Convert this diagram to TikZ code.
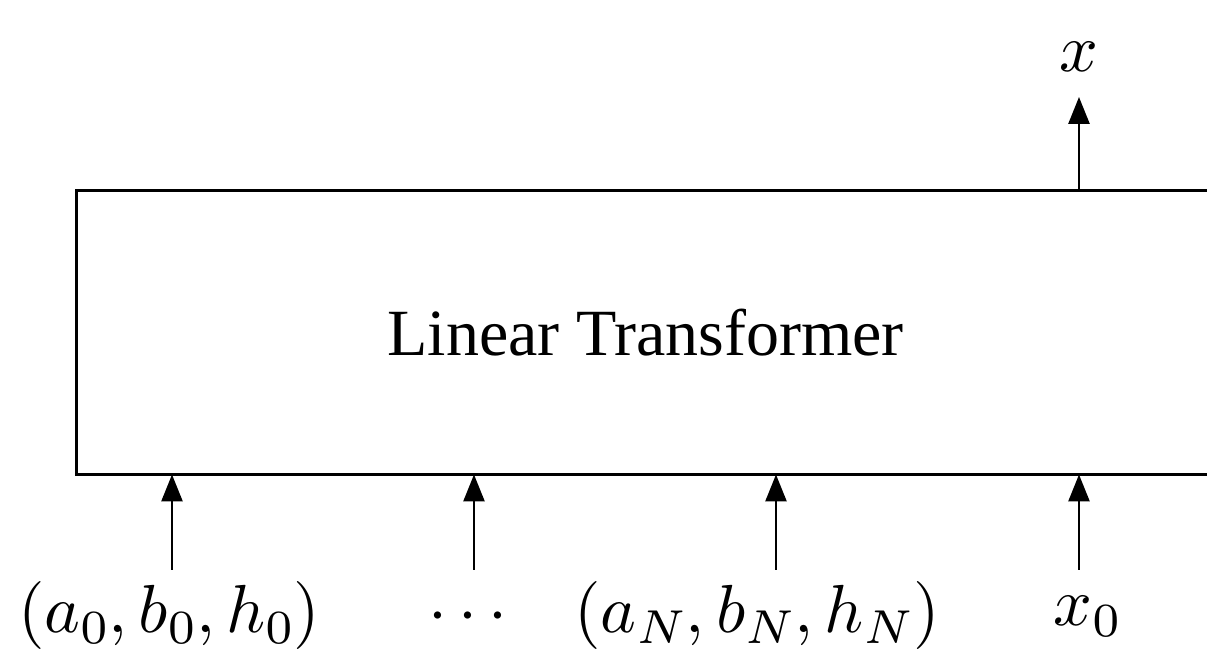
\documentclass[tikz,border=0pt]{standalone}
\usepackage{fontspec}
\setmainfont{Liberation Serif}
\DeclareFontShape{OML}{cmm}{m}{it}{<-30>cmmi7<30->cmmi10}{}
\DeclareFontShape{OT1}{cmr}{m}{n}{<-30>cmr7<30->cmr10}{}
\DeclareFontShape{OMS}{cmsy}{m}{n}{<-30>cmsy7<30->cmsy10}{}
\usetikzlibrary{arrows.meta}
\tikzset{
  arr/.style={line width=1.35pt,-{Triangle[length=13.5pt,width=10.5pt]}},
  lbl/.style={inner sep=0pt,outer sep=0pt,anchor=base,font=\fontsize{34}{40}\selectfont},
  blk/.style={draw,line width=1.35pt,inner sep=0pt,outer sep=0pt,
    minimum width=569.25pt,minimum height=142pt,font=\fontsize{33}{40}\selectfont}
}
\begin{document}
\begin{tikzpicture}[x=0.5pt,y=-0.5pt]
\useasboundingbox (0,0) rectangle (1207,651);
\clip (0,0) rectangle (1207,651);
\node[blk] (box) at (645.75,332.5) {Linear Transformer};
% bottom labels
\node[lbl] (l1) at (169,633) {$(a_0,b_0,h_0)$};
\node[lbl] (l2) at (468,633) {$\cdots$};
\node[lbl] (l3) at (757,633) {$(a_N,b_N,h_N)$};
\node[lbl] (l4) at (1087,626) {$x_0$};
\node[lbl] (top) at (1079,72) {$x$};
% arrow starts
\coordinate (s1) at (172,570);
\coordinate (s2) at (474,570);
\coordinate (s3) at (776,570);
\coordinate (s4) at (1079,570);
\coordinate (t1) at (1079,97);
\draw[arr] (s1) -- (s1 |- box.south);
\draw[arr] (s2) -- (s2 |- box.south);
\draw[arr] (s3) -- (s3 |- box.south);
\draw[arr] (s4) -- (s4 |- box.south);
\draw[arr] (t1 |- box.north) -- (t1);
\end{tikzpicture}
\end{document}
